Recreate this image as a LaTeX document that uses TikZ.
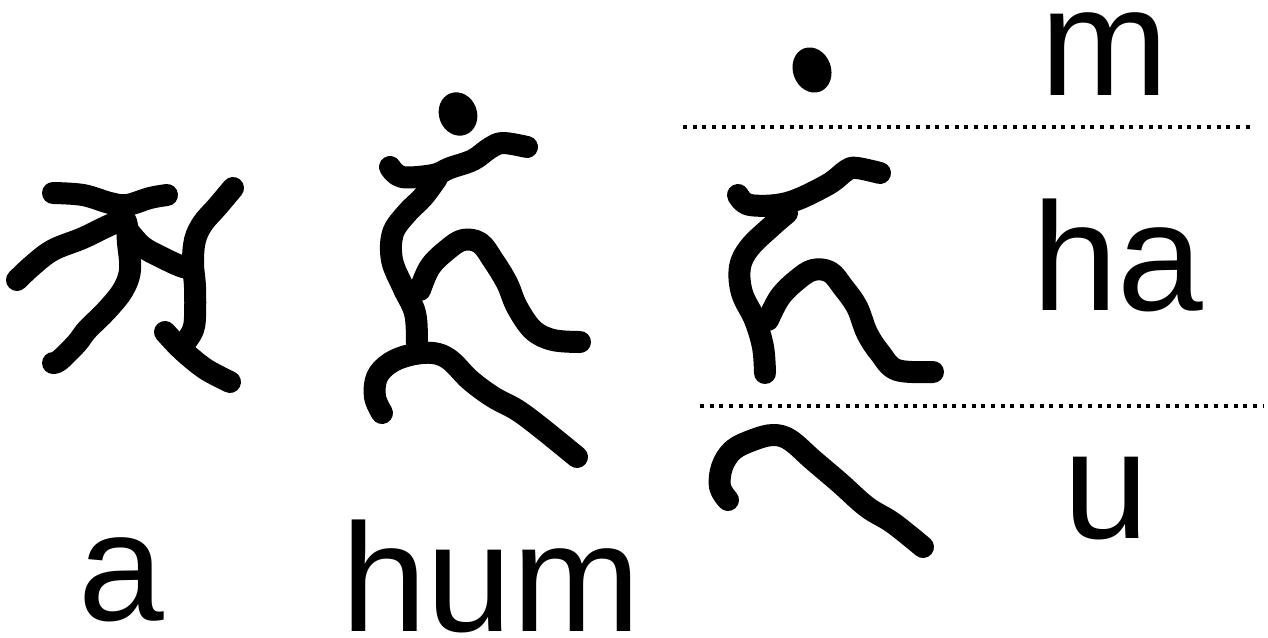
\documentclass[tikz,border=0pt]{standalone}
\usepackage{fontspec}
\setmainfont{Liberation Sans}
\usetikzlibrary{positioning}

\begin{document}
\begin{tikzpicture}[x=0.5pt, y=-0.5pt,
    trazo/.style={line width=11pt, line cap=round, line join=round},
    guia/.style={line width=2pt, dash pattern=on 2pt off 2.85pt},
    letra/.style={font=\fontsize{77}{78}\selectfont, anchor=base, inner sep=0pt}]
    \useasboundingbox (0,0) rectangle (1268,637);
    % a
    \draw[trazo] plot[smooth, tension=0.6] coordinates {(53,193) (83,195) (110,203) (127,205) (150,198) (167,195)};
    \draw[trazo] plot[smooth, tension=0.6] coordinates {(17,280) (33,265) (53,250) (83,238) (110,225) (125,220)
      (128,243) (130,270) (123,290) (107,310) (87,330) (77,343) (60,360) (53,363)};
    \draw[trazo] plot[smooth, tension=0.6] coordinates {(130,233) (143,247) (163,258) (183,267) (193,268)};
    \draw[trazo] plot[smooth, tension=0.6] coordinates {(233,188) (217,207) (203,223) (195,240) (193,263)
      (195,287) (195,317) (193,330) (187,340)};
    \draw[trazo] plot[smooth, tension=0.6] coordinates {(165,332) (177,345) (190,357) (207,370) (230,382)};
    % hum
    \fill[rotate around={20:(458,114)}] (458,114) ellipse [x radius=9.5pt, y radius=11pt];
    \draw[trazo] plot[smooth, tension=0.6] coordinates {(390,167) (402,177) (433,175) (450,168) (473,160)
      (490,148) (503,143) (527,147)};
    \draw[trazo] plot[smooth, tension=0.6] coordinates {(437,178) (423,197) (407,213) (393,233) (392,260)
      (403,287) (415,313) (417,343) (417,353)};
    \draw[trazo] plot[smooth, tension=0.6] coordinates {(420,290) (430,267) (447,250) (463,240) (480,243)
      (493,260) (507,283) (517,307) (533,330) (553,340) (580,342)};
    \draw[trazo] plot[smooth, tension=0.6] coordinates {(382,413) (375,397) (377,377) (390,363) (410,355)
      (433,353) (450,360) (470,380) (493,397) (517,410) (540,427) (577,457)};
    % ha con m y u
    \fill[rotate around={20:(812,70)}] (812,70) ellipse [x radius=9.5pt, y radius=11.5pt];
    \draw[trazo] plot[smooth, tension=0.6] coordinates {(738,195) (750,205) (787,203) (827,185) (847,170)
      (857,168) (880,173)};
    \draw[trazo] plot[smooth, tension=0.6] coordinates {(787,213) (773,225) (750,247) (740,267) (742,293)
      (755,320) (763,347) (765,373)};
    \draw[trazo] plot[smooth, tension=0.6] coordinates {(768,320) (780,297) (797,280) (813,270) (830,272)
      (843,287) (857,307) (867,333) (880,353) (897,370) (933,372)};
    \draw[trazo] plot[smooth, tension=0.6] coordinates {(728,500) (720,487) (722,467) (733,450) (753,440)
      (773,435) (790,440) (813,460) (840,483) (867,507) (893,523) (923,547)};
    % lineas de puntos
    \coordinate (g1a) at (683,127);
    \coordinate (g1b) at (1255,127);
    \coordinate (g2a) at (700,406);
    \coordinate (g2b) at (1264,406);
    \draw[guia] (g1a) -- (g1b);
    \draw[guia] (g2a) -- (g2b);
    % textos
    \node[letra] (m) at (1105,95) {m};
    \node[letra] (ha) at (1118,310) {ha};
    \node[letra] (u) at (1106,538) {u};
    \node[letra] (a) at (121,620) {a};
    \node[letra] (hum) at (491,631) {hum};
\end{tikzpicture}
\end{document}
